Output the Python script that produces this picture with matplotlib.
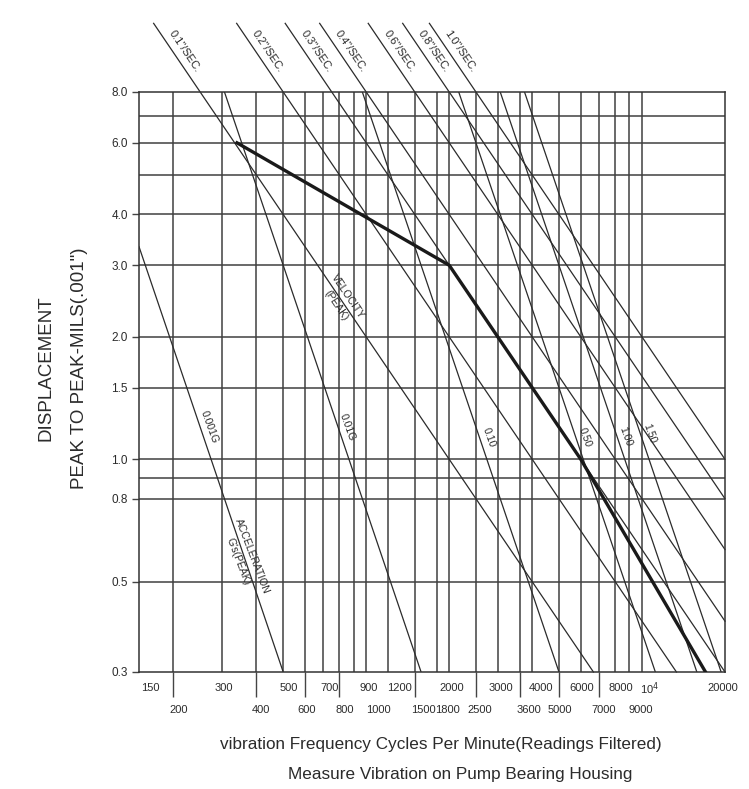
import numpy as np
import matplotlib.pyplot as plt
from matplotlib.ticker import NullLocator
from matplotlib.transforms import blended_transform_factory, offset_copy

plt.rcParams['font.family'] = ['Liberation Sans Narrow', 'Liberation Sans', 'DejaVu Sans']

# chart range: frequency in CPM, displacement in mils peak to peak
cpm_lo, cpm_hi = 150, 20000
mils_lo, mils_hi = 0.3, 8.0

grid_cpm = [200, 300, 400, 500, 600, 700, 800, 900, 1000, 1200, 1500, 1800,
            2000, 2500, 3000, 3600, 4000, 5000, 6000, 7000, 8000, 9000, 10000]
grid_mils = [0.5, 0.8, 0.9, 1.0, 1.5, 2.0, 3.0, 4.0, 5.0, 6.0, 7.0]

ytick_vals = [8.0, 6.0, 4.0, 3.0, 2.0, 1.5, 1.0, 0.8, 0.5, 0.3]
ytick_text = ["8.0", "6.0", "4.0", "3.0", "2.0", "1.5", "1.0", "0.8", "0.5", "0.3"]

xrow1_vals = [150, 300, 500, 700, 900, 1200, 2000, 3000, 4000, 6000, 8000, 10000, 20000]
xrow1_text = ["150", "300", "500", "700", "900", "1200", "2000", "3000", "4000",
              "6000", "8000", "10$^4$", "20000"]
xrow2_vals = [200, 400, 600, 800, 1000, 1500, 1800, 2500, 3600, 5000, 7000, 9000]
xrow2_text = ["200", "400", "600", "800", "1000", "1500", "1800", "2500", "3600",
              "5000", "7000", "9000"]
long_ticks = [200, 400, 600, 800, 1500, 2500, 3600, 5000, 7000]

# constant velocity lines (in/sec peak) and constant acceleration lines (g peak)
velocity = [0.1, 0.2, 0.3, 0.4, 0.6, 0.8, 1.0]
velocity_text = ['0.1"/SEC.', '0.2"/SEC.', '0.3"/SEC.', '0.4"/SEC.',
                 '0.6"/SEC.', '0.8"/SEC.', '1.0"/SEC.']
accel = [0.001, 0.01, 0.10, 0.50, 1.00, 1.50]
accel_text = ["0.001G", "0.01G", "0.10", "0.50", "1.00", "1.50"]

VEL_K = 20000.0   # mils = VEL_K * v / cpm
ACC_K = 7.5e7     # mils = ACC_K * g / cpm^2

# acceptance limit curve
limit_cpm = [340, 2000, 6000, 17000]
limit_mils = [6.0, 3.0, 1.0, 0.3]

# nudges (pixels) for the frequency labels, which sit a little off their lines
row1_shift = [11, 2, 6, 6, 15, 11, 3, 3, 9, 1, 6, 8, -2]
row2_shift = [5, 4, 2, 5, 12, 9, 11, 4, 9, 1, 4, 11]

ink = "#2b2b2b"

fig = plt.figure(figsize=(7.49, 7.89), dpi=100)
ax = fig.add_axes([139 / 749, 1 - 672 / 789, 586 / 749, 580 / 789])
ax.set_xscale("log")
ax.set_yscale("log")
ax.set_xlim(cpm_lo, cpm_hi)
ax.set_ylim(mils_lo, mils_hi)

for x in grid_cpm:
    ax.axvline(x, color="#404040", lw=1.1, zorder=1)
for y in grid_mils:
    ax.axhline(y, color="#404040", lw=1.1, zorder=1)

# velocity lines run on above the frame up to their labels
top_mils = 11.8
for v, txt in zip(velocity, velocity_text):
    x0 = max(cpm_lo, VEL_K * v / top_mils)
    x1 = min(cpm_hi, VEL_K * v / mils_lo)
    xs = np.array([x0, x1])
    ax.plot(xs, VEL_K * v / xs, color=ink, lw=0.9, clip_on=False, zorder=2)
    lab_mils = 10.1
    ax.annotate(txt, (VEL_K * v / lab_mils, lab_mils), xytext=(9, 0),
                textcoords="offset points", rotation=-56, ha="center", va="center",
                fontsize=8, color=ink, annotation_clip=False)

for a in accel:
    xs = np.geomspace(cpm_lo, cpm_hi, 50)
    ax.plot(xs, ACC_K * a / xs ** 2, color=ink, lw=0.9, zorder=2)

acc_lab_mils = [1.2, 1.2, 1.13, 1.13, 1.14, 1.16]
for a, txt, m in zip(accel, accel_text, acc_lab_mils):
    ax.annotate(txt, (np.sqrt(ACC_K * a / m), m), xytext=(6.5, 0),
                textcoords="offset points", rotation=-70, ha="center", va="center",
                fontsize=7.5, color=ink)

# captions centred on the 0.1 in/sec and 0.001 g lines
m = 2.45
ax.text(VEL_K * 0.1 / m, m, "VELOCITY\n(PEAK)", rotation=-56, ha="center",
        va="center", fontsize=7.5, color=ink, linespacing=1.6)
m = 0.57
ax.text(np.sqrt(ACC_K * 0.001 / m), m, "ACCELERATION\nG's(PEAK)", rotation=-69,
        ha="center", va="center", fontsize=7.5, color=ink, linespacing=1.6)

ax.plot(limit_cpm, limit_mils, color="#1a1a1a", lw=2.4, zorder=3,
        solid_joinstyle="round")

for s in ax.spines.values():
    s.set_color("#333333")
    s.set_linewidth(1.1)

ax.set_yticks(ytick_vals, ytick_text)
ax.set_xticks(long_ticks, [""] * len(long_ticks))
ax.xaxis.set_minor_locator(NullLocator())
ax.yaxis.set_minor_locator(NullLocator())
ax.tick_params(axis="y", length=5, width=1.0, color="#444444", labelsize=8.5,
               labelcolor=ink, pad=3)
ax.tick_params(axis="x", length=18, width=1.0, color="#444444")

trans = blended_transform_factory(ax.transData, ax.transAxes)
for x, t, dx in zip(xrow1_vals, xrow1_text, row1_shift):
    tr = offset_copy(trans, fig=fig, x=dx, y=0, units="dots")
    ax.text(x, -0.028, t, transform=tr, ha="center", va="center",
            fontsize=8, color=ink)
for x, t, dx in zip(xrow2_vals, xrow2_text, row2_shift):
    tr = offset_copy(trans, fig=fig, x=dx, y=0, units="dots")
    ax.text(x, -0.066, t, transform=tr, ha="center", va="center",
            fontsize=8, color=ink)

fig.text(441 / 749, 1 - 745 / 789,
         "vibration Frequency Cycles Per Minute(Readings Filtered)",
         ha="center", va="center", fontsize=12.3, color=ink)
fig.text(460 / 749, 1 - 775 / 789, "Measure Vibration on Pump Bearing Housing",
         ha="center", va="center", fontsize=12.3, color=ink)
fig.text(46 / 749, 1 - 368 / 789, "DISPLACEMENT", rotation=90,
         ha="center", va="center", fontsize=13.5, color=ink)
fig.text(79 / 749, 1 - 368 / 789, 'PEAK TO PEAK-MILS(.001")', rotation=90,
         ha="center", va="center", fontsize=13.5, color=ink)

fig.savefig("out.png", dpi=100, facecolor="white")
